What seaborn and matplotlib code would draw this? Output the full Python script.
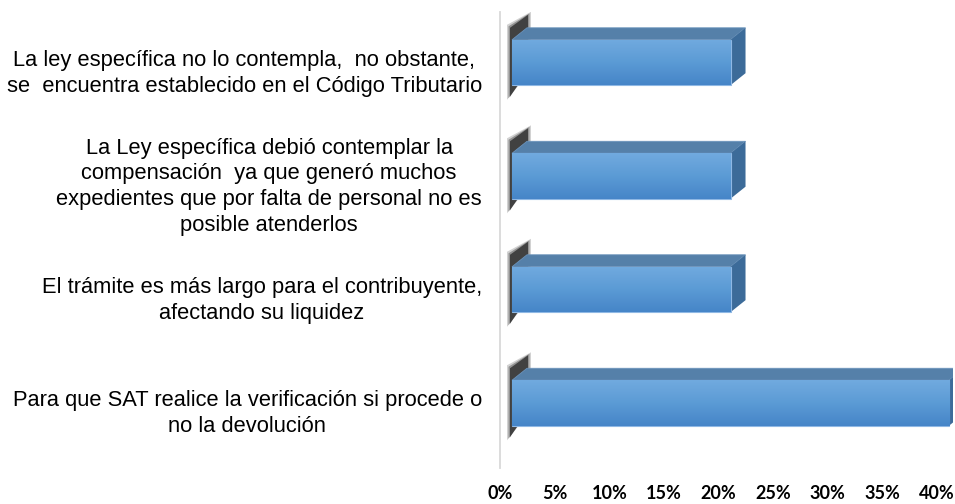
import numpy as np
import pandas as pd
import matplotlib
matplotlib.use('Agg')
import matplotlib.pyplot as plt
import seaborn as sns
from matplotlib.patches import Polygon
from matplotlib.transforms import ScaledTranslation
from matplotlib.colors import LinearSegmentedColormap

# Datos del gráfico
categorias = [
    'La ley específica no lo contempla,  no obstante,\nse  encuentra establecido en el Código Tributario',
    'La Ley específica debió contemplar la\ncompensación  ya que generó muchos\nexpedientes que por falta de personal no es\nposible atenderlos',
    'El trámite es más largo para el contribuyente,\nafectando su liquidez',
    'Para que SAT realice la verificación si procede o\nno la devolución',
]
porcentajes = [20, 20, 20, 40]
ticks_x = [0, 5, 10, 15, 20, 25, 30, 35, 40]
etiquetas_x = ['0%', '5%', '10%', '15%', '20%', '25%', '30%', '35%', '40%']


def dibujar_barras_3d(ax, fig):
    # Desplazamiento de la cara frontal y profundidad del efecto 3D (en pixeles)
    desplazamiento = ax.transData + ScaledTranslation(12 / 100, 0, fig.dpi_scale_trans)
    inv = ax.transData.inverted()
    origen = ax.transData.transform((0, 0))
    sx, sy = inv.transform(origen + np.array([1, 1])) - inv.transform(origen)
    ddx, ddy = 15 * sx, 12 * sy

    degradado = LinearSegmentedColormap.from_list('azul', ['#71aadf', '#5b9bd5', '#4685c8'])
    grad = np.linspace(0, 1, 100).reshape(-1, 1)

    for p in list(ax.patches):
        x0, y0 = p.get_x(), p.get_y()
        w, h = p.get_width(), p.get_height()
        p.set_transform(desplazamiento)
        p.set_zorder(4)
        p.set_edgecolor('#8fb8e4')
        p.set_linewidth(0.8)

        # sombra difusa en el extremo izquierdo (pixeles relativos, positivo hacia arriba)
        for e, a in zip([3, 1.5, 0], [0.2, 0.35, 0.7]):
            puntos = [(-2 - e, 12 + e), (16 + e, 25 + e), (16 + e, -30), (-2 - e, -57 - e)]
            sombra = [(x0 + px * sx, y0 + py * sy) for px, py in puntos]
            ax.add_patch(Polygon(sombra, closed=True, facecolor='#1e1e1e', edgecolor='none',
                                 alpha=a, transform=desplazamiento, zorder=1))

        superior = [(x0, y0), (x0 + w, y0), (x0 + w + ddx, y0 + ddy), (x0 + ddx, y0 + ddy)]
        ax.add_patch(Polygon(superior, closed=True, facecolor='#5580a9', edgecolor='#6b93bb',
                             linewidth=0.6, transform=desplazamiento, zorder=3))
        lateral = [(x0 + w, y0), (x0 + w, y0 + h), (x0 + w + ddx, y0 + h + ddy), (x0 + w + ddx, y0 + ddy)]
        ax.add_patch(Polygon(lateral, closed=True, facecolor='#3c6b99', edgecolor='none',
                             transform=desplazamiento, zorder=3))

        im = ax.imshow(grad, cmap=degradado, aspect='auto', origin='upper',
                       extent=(x0, x0 + w, y0 + h, y0), transform=desplazamiento, zorder=5)
        im.set_clip_path(p)


def main():
    df = pd.DataFrame({'categoria': categorias, 'porcentaje': porcentajes})

    fig = plt.figure(figsize=(9.55, 5.04), dpi=100)
    ax = fig.add_axes([500 / 955, 36 / 504, 453 / 955, 456 / 504])

    sns.barplot(data=df, y='categoria', x='porcentaje', orient='h', width=0.4,
                color='#5b9bd5', ax=ax)

    ax.set_xlim(0, 41.46)
    ax.set_ylim(3.573, -0.445)
    ax.set_autoscale_on(False)
    ax.set_xlabel('')
    ax.set_ylabel('')

    dibujar_barras_3d(ax, fig)

    # Ejes
    for lado in ['top', 'right', 'bottom']:
        ax.spines[lado].set_visible(False)
    ax.spines['left'].set_color('#d9d9d9')
    ax.spines['left'].set_linewidth(1.3)
    ax.set_facecolor('white')

    ax.set_xticks(ticks_x)
    ax.set_xticklabels(etiquetas_x, fontfamily='Lato', fontweight='bold', fontsize=13)
    ax.tick_params(axis='x', length=0, pad=12)
    ax.tick_params(axis='y', length=0, pad=13)

    bajar = ScaledTranslation(0, -6 / 100, fig.dpi_scale_trans)
    for etiqueta in ax.get_yticklabels():
        etiqueta.set_fontfamily('Liberation Sans')
        etiqueta.set_fontsize(15.75)
        etiqueta.set_multialignment('center')
        etiqueta.set_linespacing(1.3)
        etiqueta.set_color('black')
        etiqueta.set_transform(etiqueta.get_transform() + bajar)

    fig.savefig('out.png', dpi=100)
    plt.close(fig)


if __name__ == "__main__":
    main()
